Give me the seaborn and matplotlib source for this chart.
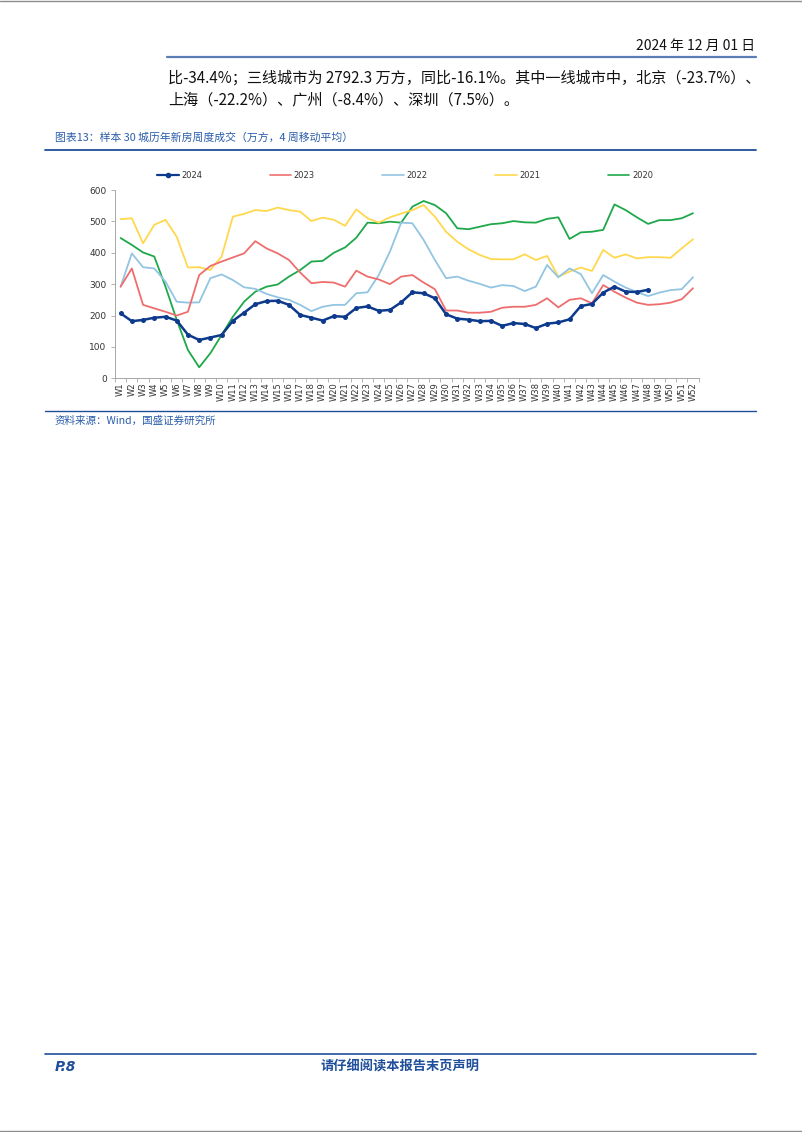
import numpy as np
import pandas as pd
import matplotlib
matplotlib.use("Agg")
import matplotlib.pyplot as plt
import seaborn as sns
from matplotlib.lines import Line2D
from matplotlib.ticker import MultipleLocator, FixedLocator

sns.set_theme(style="white")
plt.rcParams['font.family'] = ['DejaVu Sans', 'Noto Sans CJK SC']

weeks = [f"W{i}" for i in range(1, 53)]

y2024 = [207, 182, 186, 193, 196, 184, 139, 122, 130, 138, 183, 209, 236, 246, 247, 234,
         202, 193, 184, 198, 196, 224, 229, 215, 218, 242, 274, 271, 255, 204, 190, 187,
         182, 183, 167, 176, 173, 160, 174, 178, 188, 230, 237, 273, 292, 276, 275, 282]
y2023 = [292, 350, 234, 223, 212, 200, 212, 329, 358, 372, 385, 398, 437, 414, 398, 377,
         337, 303, 307, 305, 292, 343, 324, 315, 300, 324, 329, 305, 284, 216, 216, 209,
         209, 212, 225, 228, 228, 234, 255, 226, 250, 255, 239, 297, 276, 257, 241, 234,
         236, 241, 252, 287]
y2022 = [292, 398, 354, 350, 308, 244, 241, 242, 319, 331, 313, 290, 285, 269, 258, 250,
         234, 214, 228, 234, 234, 271, 274, 329, 404, 496, 494, 441, 377, 319, 324, 311,
         301, 289, 297, 294, 278, 292, 361, 322, 350, 332, 271, 329, 308, 289, 275, 262,
         273, 281, 284, 322]
y2021 = [507, 510, 430, 489, 505, 451, 353, 354, 345, 388, 515, 524, 536, 533, 544, 536,
         531, 501, 512, 505, 486, 538, 510, 496, 513, 525, 536, 552, 515, 467, 435, 411,
         393, 380, 379, 379, 395, 377, 390, 324, 340, 353, 342, 409, 384, 395, 382, 386,
         386, 384, 414, 443]
y2020 = [447, 425, 401, 388, 292, 186, 90, 35, 80, 138, 196, 244, 276, 292, 299, 324,
         345, 372, 374, 400, 417, 448, 496, 494, 499, 496, 547, 565, 552, 526, 478, 475,
         483, 491, 494, 501, 497, 496, 508, 513, 444, 465, 467, 473, 554, 536, 513, 492,
         504, 504, 510, 526]

series_names = ["2024", "2023", "2022", "2021", "2020"]
series_vals = [y2024, y2023, y2022, y2021, y2020]
colors = {"2024": "#0d3a8c", "2023": "#ee6e6e", "2022": "#92c5e2",
          "2021": "#ffd84d", "2020": "#1ea84a"}

rows = []
for name, vals in zip(series_names, series_vals):
    for i, v in enumerate(vals):
        rows.append({"week": i, "year": name, "value": v})
df = pd.DataFrame(rows)

fig = plt.figure(figsize=(8.02, 11.32), dpi=100)
W, H = 802.0, 1132.0

def fx(x):
    return x / W

def fy(y):
    return 1 - y / H

ax = fig.add_axes([fx(115), fy(378.3), fx(698.6) - fx(115), fy(190) - fy(378.3)])

for name in ["2020", "2021", "2022", "2023"]:
    sns.lineplot(data=df[df.year == name], x="week", y="value", ax=ax,
                 color=colors[name], linewidth=1.3, legend=False)
sns.lineplot(data=df[df.year == "2024"], x="week", y="value", ax=ax,
             color=colors["2024"], linewidth=1.8, marker="o", markersize=3.6,
             markeredgewidth=0, legend=False)

ax.set_xlim(-0.5, 51.5)
ax.set_ylim(0, 600)
ax.yaxis.set_major_locator(MultipleLocator(100))
ax.set_xticks(range(52))
ax.set_xticklabels(weeks, rotation=90, fontsize=6, color="#333333")
ax.xaxis.set_minor_locator(FixedLocator([i + 0.5 for i in range(-1, 52)]))
ax.tick_params(axis="x", which="major", length=0, pad=3)
ax.tick_params(axis="x", which="minor", length=3, color="#a6a6a6", width=0.6, bottom=True)
ax.tick_params(axis="y", labelsize=6.5, labelcolor="#333333", length=3, color="#a6a6a6",
               width=0.6, left=True, pad=3)
ax.set_xlabel("")
ax.set_ylabel("")
for s in ["top", "right"]:
    ax.spines[s].set_visible(False)
for s in ["left", "bottom"]:
    ax.spines[s].set_color("#a6a6a6")
    ax.spines[s].set_linewidth(0.7)

handles = []
for name in series_names:
    if name == "2024":
        handles.append(Line2D([], [], color=colors[name], linewidth=1.6, marker="o",
                              markersize=3, label=name))
    else:
        handles.append(Line2D([], [], color=colors[name], linewidth=1.2, label=name))
leg = fig.legend(handles=handles, ncol=5, loc="center left",
                 bbox_to_anchor=(fx(157), fy(175)), frameon=False, fontsize=6,
                 handlelength=2.6, handletextpad=0.3, columnspacing=8.1,
                 borderaxespad=0, borderpad=0)
for t in leg.get_texts():
    t.set_color("#333333")

cjk = ['Noto Sans CJK SC', 'DejaVu Sans']
blue = "#2a5caa"

# page edges
fig.add_artist(Line2D([0, 1], [fy(0.5), fy(0.5)], color="#8c8c8c", linewidth=1.0))
fig.add_artist(Line2D([0, 1], [fy(1131.2), fy(1131.2)], color="#8c8c8c", linewidth=1.0))

# header
fig.text(fx(755), fy(46), "2024 年 12 月 01 日", family=cjk, fontsize=10,
         ha="right", va="center", color="#111111")
fig.add_artist(Line2D([fx(167), fx(756)], [fy(57), fy(57)], color="#5b7fb4", linewidth=1.6))

fig.text(fx(168), fy(78), "比-34.4%；三线城市为 2792.3 万方，同比-16.1%。其中一线城市中，北京（-23.7%）、",
         family=cjk, fontsize=10.9, ha="left", va="center", color="#111111")
fig.text(fx(168), fy(100), "上海（-22.2%）、广州（-8.4%）、深圳（7.5%）。",
         family=cjk, fontsize=10.9, ha="left", va="center", color="#111111")

fig.text(fx(55), fy(138), "图表13：样本 30 城历年新房周度成交（万方，4 周移动平均）",
         family=cjk, fontsize=7.8, ha="left", va="center", color=blue, style="italic")
fig.add_artist(Line2D([fx(45), fx(756)], [fy(150), fy(150)], color="#1f4e9a", linewidth=1.3))

fig.add_artist(Line2D([fx(45), fx(756)], [fy(411), fy(411)], color="#1f4e9a", linewidth=1.0))
fig.text(fx(55), fy(421), "资料来源：Wind，国盛证券研究所",
         family=cjk, fontsize=7.6, ha="left", va="center", color=blue, style="italic")

# footer
fig.add_artist(Line2D([fx(45), fx(756)], [fy(1054), fy(1054)], color="#1f4e9a", linewidth=1.2))
fig.text(fx(55), fy(1067), "P.8", fontsize=10, ha="left", va="center", color="#1f4e9a",
         weight="bold", style="italic")
fig.text(fx(400), fy(1067), "请仔细阅读本报告末页声明", family=cjk, fontsize=9.5,
         ha="center", va="center", color="#1f4e9a", weight="bold")

fig.savefig("out.png", dpi=100, facecolor="white")
